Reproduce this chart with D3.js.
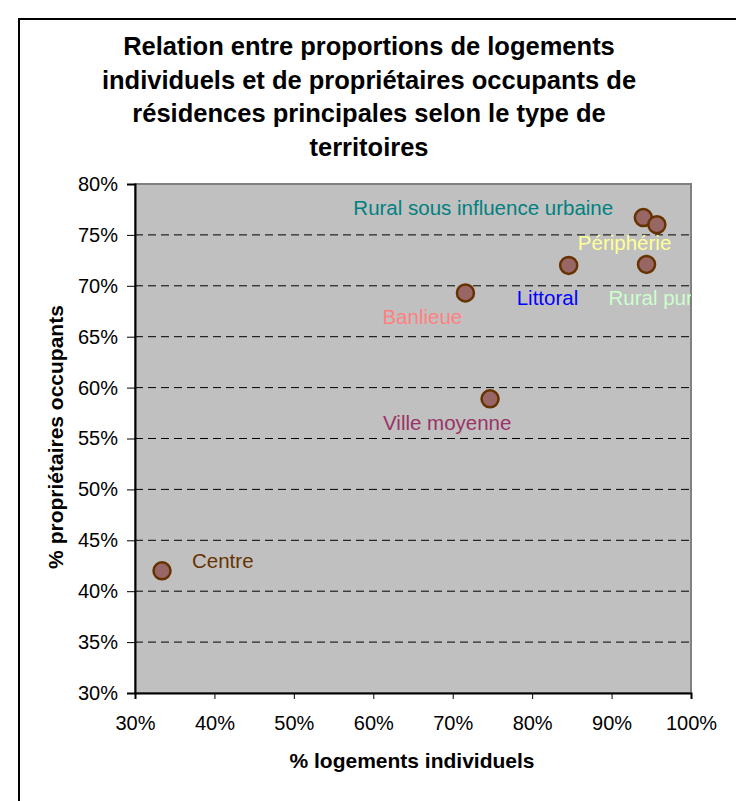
<!DOCTYPE html>
<html>
<head>
<meta charset="utf-8">
<script src="https://cdn.jsdelivr.net/npm/d3@7"></script>
<style>
body { margin: 0; background: #fff; }
text { font-family: "Liberation Sans", Arial, sans-serif; }
</style>
</head>
<body>
<div id="chart"></div>
<script>
// territory types, x = % logements individuels, y = % proprietaires occupants
var territoires = ["Centre", "Banlieue", "Ville moyenne", "Littoral", "Rural pur", "Rural sous influence urbaine", "Périphérie"];
var logementsIndiv = [33.4, 71.6, 74.7, 84.6, 94.4, 94.0, 95.7];
var proprietaires = [42.0, 69.3, 58.9, 72.0, 72.1, 76.7, 76.0];
var labelColors = ["#663300", "#FF8080", "#993366", "#0000FF", "#CCFFCC", "#008080", "#FFFF99"];

var xTicks = [30, 40, 50, 60, 70, 80, 90, 100];
var yTicks = [30, 35, 40, 45, 50, 55, 60, 65, 70, 75, 80];

var titleLines = ["Relation entre proportions de logements",
	"individuels et de propriétaires occupants de",
	"résidences principales selon le type de",
	"territoires"];

var width = 736, height = 801;
var plot = {left: 135, top: 184, right: 691, bottom: 693};

var svg = d3.select("#chart").append("svg")
	.attr("width", width)
	.attr("height", height);

svg.append("rect")
	.attr("x", 19).attr("y", 19)
	.attr("width", 760).attr("height", 820)
	.attr("fill", "#fff")
	.attr("stroke", "#000")
	.attr("stroke-width", 2);

var x = d3.scaleLinear().domain([30, 100]).range([plot.left, plot.right]);
var y = d3.scaleLinear().domain([30, 80]).range([plot.bottom, plot.top]);

// title
svg.append("g").selectAll("text")
	.data(titleLines)
	.enter().append("text")
	.attr("x", 369)
	.attr("y", function(d, i){ return 55 + i*33.5; })
	.attr("text-anchor", "middle")
	.attr("font-size", "25.5px")
	.attr("font-weight", "bold")
	.text(function(d){ return d; });

// plot area
svg.append("rect")
	.attr("x", plot.left).attr("y", plot.top)
	.attr("width", plot.right - plot.left)
	.attr("height", plot.bottom - plot.top)
	.attr("fill", "#C0C0C0")
	.attr("stroke", "#808080")
	.attr("stroke-width", 2);

// dashed gridlines
svg.append("g").selectAll("line")
	.data(yTicks.slice(1, -1))
	.enter().append("line")
	.attr("x1", plot.left).attr("x2", plot.right)
	.attr("y1", function(d){ return y(d); })
	.attr("y2", function(d){ return y(d); })
	.attr("stroke", "#000")
	.attr("stroke-dasharray", "8,5");

// axes
var xAxis = d3.axisBottom(x).tickValues(xTicks).tickSize(6).tickPadding(17)
	.tickFormat(function(d){ return d + "%"; });
var yAxis = d3.axisLeft(y).tickValues(yTicks).tickSize(8).tickPadding(9)
	.tickFormat(function(d){ return d + "%"; });

var gx = svg.append("g")
	.attr("transform", "translate(0," + plot.bottom + ")")
	.call(xAxis);
var gy = svg.append("g")
	.attr("transform", "translate(" + plot.left + ",0)")
	.call(yAxis);

[gx, gy].forEach(function(g){
	g.select(".domain").attr("stroke", "#000").attr("stroke-width", 2);
	g.selectAll(".tick line").attr("stroke", "#000");
	g.selectAll(".tick text")
		.attr("font-size", "20px")
		.attr("fill", "#000")
		.style("font-family", "'Liberation Sans', Arial, sans-serif");
});

// axis titles
svg.append("text")
	.attr("x", 412).attr("y", 768)
	.attr("text-anchor", "middle")
	.attr("font-size", "21px")
	.attr("font-weight", "bold")
	.text("% logements individuels");

svg.append("text")
	.attr("transform", "translate(63,437) rotate(-90)")
	.attr("text-anchor", "middle")
	.attr("font-size", "21px")
	.attr("font-weight", "bold")
	.text("% propriétaires occupants");

// labels, clipped to plot area
svg.append("clipPath").attr("id", "plotClip")
	.append("rect")
	.attr("x", plot.left).attr("y", plot.top)
	.attr("width", plot.right - plot.left)
	.attr("height", plot.bottom - plot.top);

// label offsets from the point (dx, dy)
var labelDx = [30, -83, -107, -52, -38, -290, -79];
var labelDy = [-3, 31, 31, 40, 41, -3, 25];

svg.append("g")
	.attr("clip-path", "url(#plotClip)")
	.selectAll("text")
	.data(territoires)
	.enter().append("text")
	.attr("x", function(d, i){ return x(logementsIndiv[i]) + labelDx[i]; })
	.attr("y", function(d, i){ return y(proprietaires[i]) + labelDy[i]; })
	.attr("font-size", "20.5px")
	.attr("fill", function(d, i){ return labelColors[i]; })
	.text(function(d){ return d; });

// points
svg.append("g").selectAll("circle")
	.data(territoires)
	.enter().append("circle")
	.attr("cx", function(d, i){ return x(logementsIndiv[i]); })
	.attr("cy", function(d, i){ return y(proprietaires[i]); })
	.attr("r", 8.5)
	.attr("fill", "#996666")
	.attr("stroke", "#663300")
	.attr("stroke-width", 2.5);
</script>
</body>
</html>
